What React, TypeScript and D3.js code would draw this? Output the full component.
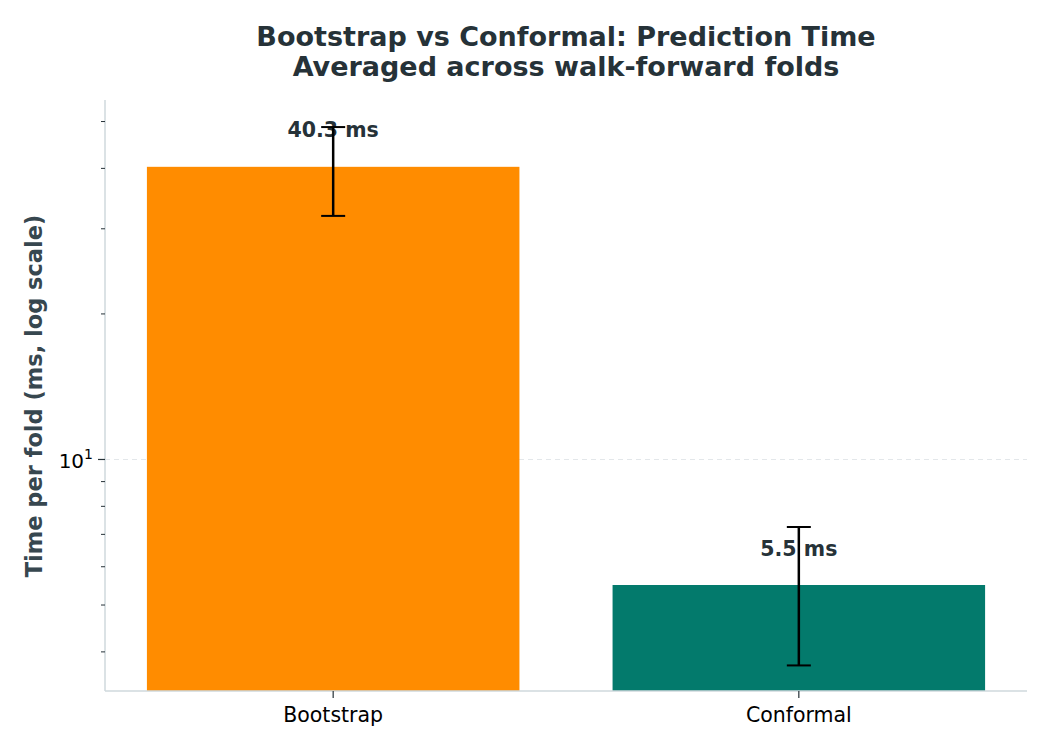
import React, { useEffect, useRef } from 'react';
import * as d3 from 'd3';

// chart data
const methods = ['Bootstrap', 'Conformal'];
const meanTimes = [40.3, 5.5];
const errTimes = [8.4, 1.75];
const barColors = ['#FF8C00', '#037A6C'];
const minorTicks = [4, 5, 6, 7, 8, 9, 20, 30, 40, 50];
const majorTicks = [10];

const W = 1050;
const H = 750;
const margin = { top: 100, right: 23, bottom: 59, left: 105 };

export default function App() {
  const svgRef = useRef<SVGSVGElement>(null);

  useEffect(() => {
    document.body.style.margin = '0';
    if (!svgRef.current) return;

    const svg = d3.select(svgRef.current);
    svg.selectAll('*').remove();

    const innerW = W - margin.left - margin.right;
    const innerH = H - margin.top - margin.bottom;

    const x = d3.scaleBand<string>()
      .domain(methods)
      .range([0, innerW])
      .paddingInner(0.2)
      .paddingOuter(0.09);

    const y = d3.scaleLog()
      .domain([3.32, 55.4])
      .range([innerH, 0]);

    const g = svg.append('g')
      .attr('transform', `translate(${margin.left},${margin.top})`);

    // grid line at major tick
    g.selectAll('.grid')
      .data(majorTicks)
      .enter()
      .append('line')
      .attr('x1', 0)
      .attr('x2', innerW)
      .attr('y1', d => y(d))
      .attr('y2', d => y(d))
      .attr('stroke', '#e3e7ea')
      .attr('stroke-width', 1)
      .attr('stroke-dasharray', '5,4');

    // bars
    g.selectAll('.bar')
      .data(methods)
      .enter()
      .append('rect')
      .attr('x', d => x(d)!)
      .attr('y', (d, i) => y(meanTimes[i]))
      .attr('width', x.bandwidth())
      .attr('height', (d, i) => innerH - y(meanTimes[i]))
      .attr('fill', (d, i) => barColors[i]);

    // value labels
    g.selectAll('.val')
      .data(methods)
      .enter()
      .append('text')
      .attr('x', d => x(d)! + x.bandwidth() / 2)
      .attr('y', (d, i) => y(meanTimes[i] * 1.15))
      .attr('text-anchor', 'middle')
      .style('font-family', 'DejaVu Sans')
      .style('font-size', '20.5px')
      .style('font-weight', 'bold')
      .style('fill', '#263238')
      .text((d, i) => `${meanTimes[i]} ms`);

    // error bars
    const eb = g.selectAll('.err')
      .data(methods)
      .enter()
      .append('g');
    eb.append('line')
      .attr('x1', d => x(d)! + x.bandwidth() / 2)
      .attr('x2', d => x(d)! + x.bandwidth() / 2)
      .attr('y1', (d, i) => y(meanTimes[i] + errTimes[i]))
      .attr('y2', (d, i) => y(meanTimes[i] - errTimes[i]))
      .attr('stroke', '#000')
      .attr('stroke-width', 2.5);
    [1, -1].forEach(s => {
      eb.append('line')
        .attr('x1', d => x(d)! + x.bandwidth() / 2 - 12)
        .attr('x2', d => x(d)! + x.bandwidth() / 2 + 12)
        .attr('y1', (d, i) => y(meanTimes[i] + s * errTimes[i]))
        .attr('y2', (d, i) => y(meanTimes[i] + s * errTimes[i]))
        .attr('stroke', '#000')
        .attr('stroke-width', 2);
    });

    // spines
    g.append('line')
      .attr('x1', 0).attr('x2', 0).attr('y1', 0).attr('y2', innerH)
      .attr('stroke', '#cfd8dc').attr('stroke-width', 1.5);
    g.append('line')
      .attr('x1', 0).attr('x2', innerW).attr('y1', innerH).attr('y2', innerH)
      .attr('stroke', '#cfd8dc').attr('stroke-width', 1.5);

    // y ticks
    g.selectAll('.minor')
      .data(minorTicks)
      .enter()
      .append('line')
      .attr('x1', -4).attr('x2', 0)
      .attr('y1', d => y(d)).attr('y2', d => y(d))
      .attr('stroke', '#263238').attr('stroke-width', 1);
    g.selectAll('.major')
      .data(majorTicks)
      .enter()
      .append('line')
      .attr('x1', -7).attr('x2', 0)
      .attr('y1', d => y(d)).attr('y2', d => y(d))
      .attr('stroke', '#263238').attr('stroke-width', 1.2);
    const yl = g.selectAll('.ylab')
      .data(majorTicks)
      .enter()
      .append('text')
      .attr('x', -12)
      .attr('y', d => y(d) + 9)
      .attr('text-anchor', 'end')
      .style('font-family', 'DejaVu Sans')
      .style('font-size', '20px')
      .style('fill', '#000');
    yl.append('tspan').text('10');
    yl.append('tspan')
      .attr('dy', -9)
      .style('font-size', '14px')
      .text(d => String(Math.round(Math.log10(d))));

    // x ticks
    g.selectAll('.xtick')
      .data(methods)
      .enter()
      .append('line')
      .attr('x1', d => x(d)! + x.bandwidth() / 2)
      .attr('x2', d => x(d)! + x.bandwidth() / 2)
      .attr('y1', innerH).attr('y2', innerH + 7)
      .attr('stroke', '#263238').attr('stroke-width', 1.2);
    g.selectAll('.xlab')
      .data(methods)
      .enter()
      .append('text')
      .attr('x', d => x(d)! + x.bandwidth() / 2)
      .attr('y', innerH + 31)
      .attr('text-anchor', 'middle')
      .style('font-family', 'DejaVu Sans')
      .style('font-size', '20.5px')
      .style('fill', '#000')
      .text(d => d);

    // y axis title
    svg.append('text')
      .attr('transform', `translate(42,396) rotate(-90)`)
      .attr('text-anchor', 'middle')
      .style('font-family', 'DejaVu Sans')
      .style('font-size', '22.5px')
      .style('font-weight', 'bold')
      .style('fill', '#37474F')
      .text('Time per fold (ms, log scale)');

    // title
    const title = svg.append('text')
      .attr('text-anchor', 'middle')
      .style('font-family', 'DejaVu Sans')
      .style('font-size', '27px')
      .style('font-weight', 'bold')
      .style('fill', '#263238');
    title.append('tspan').attr('x', 566).attr('y', 46)
      .text('Bootstrap vs Conformal: Prediction Time');
    title.append('tspan').attr('x', 566).attr('y', 76)
      .text('Averaged across walk-forward folds');
  }, []);

  return <svg ref={svgRef} width={W} height={H} style={{ display: 'block', background: '#fff' }} />;
}
